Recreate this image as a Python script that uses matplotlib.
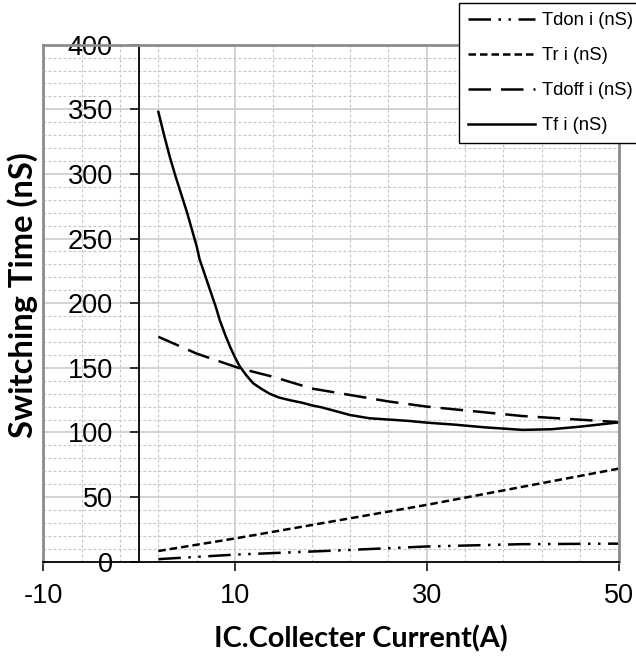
"""
Switching time vs collector current
Excel-style line chart with axis crossing at x = 0
"""

import matplotlib.pyplot as plt
from matplotlib.ticker import MultipleLocator

plt.rcParams.update({
    'font.family': ['Liberation Sans', 'DejaVu Sans'],
    'font.size': 17,
    'axes.unicode_minus': False,
})

# data
tf_x = [2, 2.6, 3.2, 3.8, 4.4, 5.0, 5.5, 6.0, 6.3, 6.9, 7.4, 8.0, 8.4, 9.0, 9.5, 10.0, 10.5,
        11.2, 11.9, 12.7, 13.6, 14.6, 15.7, 17, 18, 19, 20, 22, 24, 26, 28, 30, 33, 36, 40, 43, 46, 50]
tf_y = [348, 330, 313, 298, 284, 270, 257, 244, 234, 221, 210, 197, 187, 175, 166, 158, 151,
        144, 138, 134, 130, 127, 125, 123, 121, 119.5, 117.5, 113.5, 111, 110, 109, 107.6, 106, 104, 102, 102.5, 104.5, 107.8]

tdoff_x = [2, 6, 10.5, 14, 18, 22, 26, 30, 40, 50]
tdoff_y = [174, 161, 149.6, 143, 134, 129, 124, 120, 112.7, 108]

tr_x = [2, 10, 20, 30, 40, 50]
tr_y = [8.3, 18, 31, 44, 58, 72]

tdon_x = [2, 10, 20, 30, 40, 50]
tdon_y = [2, 5.5, 8.5, 11.8, 13.6, 14]

labels = ['Tdon i (nS)', 'Tr i (nS)', 'Tdoff i (nS)', 'Tf i (nS)']

fig = plt.figure(figsize=(6.36, 6.57), dpi=100)
ax = fig.add_axes([0.0681, 0.145, 0.9044, 0.787])

lw = 1.8
ax.plot(tdon_x, tdon_y, color='black', lw=lw, dashes=(9, 3, 1, 3, 1, 3), label=labels[0])
ax.plot(tr_x, tr_y, color='black', lw=lw, dashes=(3, 1.6), label=labels[1])
ax.plot(tdoff_x, tdoff_y, color='black', lw=lw, dashes=(9, 4), label=labels[2])
ax.plot(tf_x, tf_y, color='black', lw=lw, label=labels[3])

ax.set_xlim(-10, 50)
ax.set_ylim(0, 400)
ax.xaxis.set_major_locator(MultipleLocator(20, offset=-10))
ax.xaxis.set_minor_locator(MultipleLocator(4, offset=-10))
ax.yaxis.set_major_locator(MultipleLocator(50))
ax.yaxis.set_minor_locator(MultipleLocator(10))

ax.grid(True, which='major', color='#cccccc', lw=1.2, ls='-')
ax.grid(True, which='minor', color='#c4c4c4', lw=0.8, ls=(0, (2.5, 2)))
ax.set_axisbelow(True)

# Excel style frame: value axis at x = 0, gray plot area border
ax.spines['left'].set_position(('data', 0))
ax.spines['left'].set_color('black')
ax.spines['left'].set_linewidth(1.3)
ax.spines['bottom'].set_color('black')
ax.spines['bottom'].set_linewidth(1.3)
for s in ['top', 'right']:
    ax.spines[s].set_color('#8c8c8c')
    ax.spines[s].set_linewidth(2)
ax.axvline(-10, color='#8c8c8c', lw=2, clip_on=False, zorder=2.5)

ax.tick_params(which='minor', length=0)
ax.tick_params(which='major', direction='out', length=6.5, width=1.1, color='black',
               labelsize=19.5)
ax.tick_params(axis='y', pad=12.5)
ax.tick_params(axis='x', pad=9)

fig.text(0.035, 0.551, 'Switching Time (nS)', rotation=90, ha='center', va='center',
         fontsize=23.5, fontweight='bold', family='Lato')
fig.text(0.568, 0.027, 'IC.Collecter Current(A)', ha='center', va='center',
         fontsize=20.8, fontweight='bold', family='Lato')

leg = fig.legend(loc='upper left', bbox_to_anchor=(459 / 636, 1 - 3 / 657),
                 fontsize=13.2, frameon=True, fancybox=False, handlelength=3.65,
                 handletextpad=0.35, labelspacing=0.98, borderpad=0.5, borderaxespad=0)
leg.get_frame().set_edgecolor('black')
leg.get_frame().set_linewidth(1.0)
leg.get_frame().set_alpha(1)

plt.savefig('out.png', dpi=100)
plt.close()
